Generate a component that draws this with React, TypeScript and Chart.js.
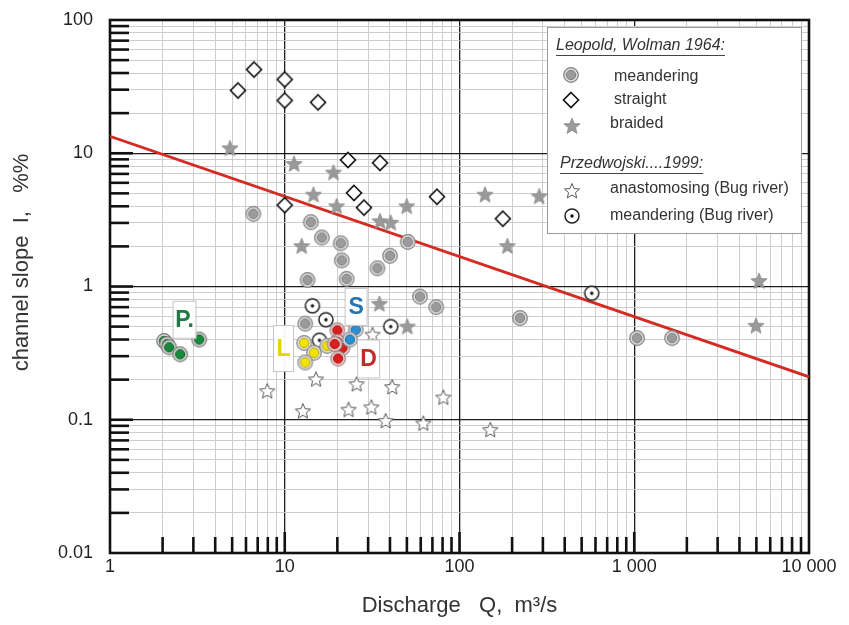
import React, { useEffect, useRef } from 'react';
import { Chart, registerables } from 'chart.js';

Chart.register(...registerables);

const W = 849;
const H = 625;
const FONT = '"Liberation Sans", Arial, Helvetica, sans-serif';

// ---- Data (Q in m3/s, I in %%) ----
// Leopold, Wolman 1964 – meandering
const meanderQ = [6.61, 14.1, 16.3, 20.9, 21.2, 13.5, 22.6, 33.9, 40.0, 50.6, 59.4, 73.6, 222, 1037, 1645, 13.1];
const meanderI = [3.51, 3.04, 2.33, 2.11, 1.57, 1.12, 1.14, 1.37, 1.70, 2.16, 0.84, 0.70, 0.58, 0.41, 0.41, 0.526];
// straight
const straightQ = [5.4, 6.67, 10.0, 10.0, 15.5, 23.0, 35.1, 24.9, 28.4, 10.0, 74.3, 177];
const straightI = [29.6, 42.5, 35.8, 24.9, 24.1, 8.9, 8.47, 5.04, 3.91, 4.08, 4.72, 3.23];
// braided
const braidedQ = [4.86, 11.3, 19.0, 14.6, 19.8, 35.1, 40.4, 12.5, 49.9, 140, 286, 188, 5176, 4970, 34.8, 50.3];
const braidedI = [10.9, 8.32, 7.17, 4.89, 4.0, 3.09, 3.01, 2.01, 4.0, 4.89, 4.75, 2.01, 1.10, 0.508, 0.741, 0.50];
// Przedwojski 1999 – anastomosing (Bug river)
const anastQ = [7.94, 15.1, 25.8, 41.2, 80.8, 12.7, 23.2, 31.3, 37.8, 62.1, 31.8, 150];
const anastI = [0.164, 0.201, 0.185, 0.176, 0.147, 0.116, 0.119, 0.124, 0.098, 0.094, 0.435, 0.084];
// meandering (Bug river)
const bugQ = [14.4, 17.2, 15.8, 40.4, 571];
const bugI = [0.716, 0.563, 0.395, 0.50, 0.89];
// coloured groups
const greenQ = [2.04, 2.12, 2.18, 2.52, 3.24];
const greenI = [0.39, 0.37, 0.35, 0.31, 0.40];
const yellowQ = [12.9, 14.7, 13.1, 17.5];
const yellowI = [0.377, 0.318, 0.269, 0.358];
const blueQ = [25.5, 23.6];
const blueI = [0.474, 0.40];
const redQ = [20.0, 20.0, 21.4, 20.2, 19.3];
const redI = [0.469, 0.384, 0.346, 0.288, 0.37];
// trend line
const trendQ = [1, 10000];
const trendI = [13.4, 0.21];

// group letters
const letterTexts = ['P.', 'L', 'S', 'D'];
const letterQ = [2.67, 9.84, 25.6, 30.2];
const letterI = [0.563, 0.342, 0.703, 0.286];
const letterColors = ['#1f7a43', '#e3d400', '#2673b0', '#c42a2a'];

// axes
const xTickLabels = ['1', '10', '100', '1 000', '10 000'];
const yTickLabels = ['0.01', '0.1', '1', '10', '100'];
const xTitle = 'Discharge   Q,  m\u00B3/s';
const yTitle = 'channel slope  I,   %%';

// legend
const legendHeader1 = 'Leopold, Wolman 1964:';
const legendHeader2 = 'Przedwojski....1999:';
const legendNames = ['meandering', 'straight', 'braided', 'anastomosing (Bug river)', 'meandering (Bug river)'];

const pts = (q: number[], i: number[]) => q.map((x, k) => ({ x, y: i[k] }));
const isDecade = (v: number) => Math.abs(Math.log10(v) - Math.round(Math.log10(v))) < 1e-9;
const logTicks = (min: number, max: number) => {
  const out: number[] = [];
  const e0 = Math.round(Math.log10(min));
  const e1 = Math.round(Math.log10(max));
  for (let e = e0; e < e1; e++) for (let m = 1; m < 10; m++) out.push(m * Math.pow(10, e));
  out.push(max);
  return out;
};

function makeMarker(size: number, draw: (ctx: CanvasRenderingContext2D, c: number) => void) {
  const cv = document.createElement('canvas');
  cv.width = size;
  cv.height = size;
  const ctx = cv.getContext('2d')!;
  draw(ctx, size / 2);
  return cv;
}
function starPath(ctx: CanvasRenderingContext2D, cx: number, cy: number, ro: number, ri: number) {
  ctx.beginPath();
  for (let i = 0; i < 10; i++) {
    const r = i % 2 === 0 ? ro : ri;
    const a = -Math.PI / 2 + (i * Math.PI) / 5;
    const px = cx + r * Math.cos(a);
    const py = cy + r * Math.sin(a);
    if (i === 0) ctx.moveTo(px, py);
    else ctx.lineTo(px, py);
  }
  ctx.closePath();
}
const ringed = (inner: string, innerStroke: string, ringFill: string, ringStroke: string) =>
  makeMarker(18, (ctx, c) => {
    ctx.beginPath();
    ctx.arc(c, c, 7.3, 0, Math.PI * 2);
    ctx.fillStyle = ringFill;
    ctx.fill();
    ctx.lineWidth = 1.2;
    ctx.strokeStyle = ringStroke;
    ctx.stroke();
    ctx.beginPath();
    ctx.arc(c, c, 4.7, 0, Math.PI * 2);
    ctx.fillStyle = inner;
    ctx.fill();
    ctx.lineWidth = 0.9;
    ctx.strokeStyle = innerStroke;
    ctx.stroke();
  });

export default function App() {
  const ref = useRef<HTMLCanvasElement | null>(null);

  useEffect(() => {
    if (!ref.current) return;

    const mGray = ringed('#9b9b9b', '#7a7a7a', '#dcdcdc', '#808080');
    const mGreen = ringed('#178a3c', '#0d5a25', '#d8d8d8', '#7a7a7a');
    const mYellow = ringed('#f4e300', '#b8a800', '#dedede', '#8a8a8a');
    const mBlue = ringed('#2a8fd8', '#1a5f95', '#dcdcdc', '#8a8a8a');
    const mRed = ringed('#d8201e', '#9a1414', '#f0d4d2', '#a08080');
    const mDiamond = makeMarker(20, (ctx, c) => {
      ctx.beginPath();
      ctx.moveTo(c, c - 7.5);
      ctx.lineTo(c + 7.5, c);
      ctx.lineTo(c, c + 7.5);
      ctx.lineTo(c - 7.5, c);
      ctx.closePath();
      ctx.fillStyle = '#ffffff';
      ctx.fill();
      ctx.lineWidth = 1.6;
      ctx.strokeStyle = '#111';
      ctx.stroke();
    });
    const mStarFilled = makeMarker(20, (ctx, c) => {
      starPath(ctx, c, c + 0.5, 8.5, 3.7);
      ctx.fillStyle = '#9a9a9a';
      ctx.fill();
      ctx.lineWidth = 0.8;
      ctx.strokeStyle = '#8a8a8a';
      ctx.stroke();
    });
    const mStarOpen = makeMarker(20, (ctx, c) => {
      starPath(ctx, c, c + 0.5, 8, 3.6);
      ctx.fillStyle = '#ffffff';
      ctx.fill();
      ctx.lineWidth = 1;
      ctx.strokeStyle = '#555';
      ctx.stroke();
    });
    const mDot = makeMarker(18, (ctx, c) => {
      ctx.beginPath();
      ctx.arc(c, c, 7, 0, Math.PI * 2);
      ctx.fillStyle = '#fff';
      ctx.fill();
      ctx.lineWidth = 1.5;
      ctx.strokeStyle = '#222';
      ctx.stroke();
      ctx.beginPath();
      ctx.arc(c, c, 1.7, 0, Math.PI * 2);
      ctx.fillStyle = '#111';
      ctx.fill();
    });

    const gridColor = (c: any) => (c.tick && isDecade(c.tick.value) ? '#1e1e1e' : '#cdcdcd');
    const gridWidth = (c: any) => (c.tick && isDecade(c.tick.value) ? 1.3 : 1);

    const frameTicksPlugin = {
      id: 'frameTicks',
      beforeDatasetsDraw(chart: any) {
        const { ctx, chartArea: a, scales } = chart;
        const xs = scales.x;
        const ys = scales.y;
        ctx.save();
        ctx.strokeStyle = '#111';
        ctx.lineWidth = 2.6;
        ys.ticks.forEach((t: any) => {
          const v = t.value;
          if (v <= ys.min * 1.0001 || v >= ys.max * 0.9999) return;
          const y = ys.getPixelForValue(v);
          const len = isDecade(v) ? 23 : 19;
          ctx.beginPath();
          ctx.moveTo(a.left, y);
          ctx.lineTo(a.left + len, y);
          ctx.stroke();
        });
        xs.ticks.forEach((t: any) => {
          const v = t.value;
          if (v <= xs.min * 1.0001 || v >= xs.max * 0.9999) return;
          const x = xs.getPixelForValue(v);
          const len = isDecade(v) ? 21 : 16;
          ctx.beginPath();
          ctx.moveTo(x, a.bottom);
          ctx.lineTo(x, a.bottom - len);
          ctx.stroke();
        });
        ctx.lineWidth = 2.6;
        ctx.strokeRect(a.left, a.top, a.right - a.left, a.bottom - a.top);
        ctx.restore();
      },
    };

    const annotationsPlugin = {
      id: 'annots',
      afterDatasetsDraw(chart: any) {
        const { ctx, scales, chartArea: a } = chart;
        const sizes = [
          [23, 37],
          [20, 46],
          [22, 37],
          [22, 38],
        ];
        ctx.save();
        letterTexts.forEach((t, k) => {
          const cx = scales.x.getPixelForValue(letterQ[k]);
          const cy = scales.y.getPixelForValue(letterI[k]);
          const [w, h] = sizes[k];
          ctx.fillStyle = 'rgba(255,255,255,0.95)';
          ctx.fillRect(cx - w / 2, cy - h / 2, w, h);
          ctx.strokeStyle = '#c4c4c4';
          ctx.lineWidth = 1;
          ctx.strokeRect(cx - w / 2, cy - h / 2, w, h);
          ctx.fillStyle = letterColors[k];
          ctx.font = `bold 23px ${FONT}`;
          ctx.textAlign = 'center';
          ctx.textBaseline = 'middle';
          ctx.fillText(t, cx, cy + 1);
        });

        // y axis title
        ctx.save();
        ctx.translate(22, a.top + (a.bottom - a.top) * 0.455);
        ctx.rotate(-Math.PI / 2);
        ctx.fillStyle = '#333';
        ctx.font = `22px ${FONT}`;
        ctx.textAlign = 'center';
        ctx.textBaseline = 'middle';
        ctx.fillText(yTitle, 0, 0);
        ctx.restore();

        // legend
        const bx = a.right - 262;
        const by = a.top + 7;
        const bw = 254;
        const bh = 206;
        ctx.fillStyle = '#fff';
        ctx.fillRect(bx, by, bw, bh);
        ctx.strokeStyle = '#9a9a9a';
        ctx.lineWidth = 1;
        ctx.strokeRect(bx + 0.5, by + 0.5, bw, bh);

        ctx.fillStyle = '#333';
        ctx.textAlign = 'left';
        ctx.textBaseline = 'middle';
        const header = (txt: string, x: number, y: number) => {
          ctx.font = `italic 16px ${FONT}`;
          ctx.fillText(txt, x, y);
          const w = ctx.measureText(txt).width;
          ctx.beginPath();
          ctx.strokeStyle = '#444';
          ctx.lineWidth = 1;
          ctx.moveTo(x, y + 9.5);
          ctx.lineTo(x + w, y + 9.5);
          ctx.stroke();
        };
        header(legendHeader1, bx + 9, by + 19);
        header(legendHeader2, bx + 13, by + 137);

        const rows: [HTMLCanvasElement, number, number, number, number][] = [
          [mGray, bx + 24, by + 48, bx + 67, by + 50],
          [mDiamond, bx + 24, by + 73, bx + 67, by + 73],
          [mStarFilled, bx + 25, by + 99, bx + 63, by + 97],
          [mStarOpen, bx + 25, by + 164, bx + 63, by + 162],
          [mDot, bx + 25, by + 189, bx + 63, by + 189],
        ];
        ctx.font = `16px ${FONT}`;
        ctx.fillStyle = '#333';
        rows.forEach(([img, mx, my, tx, ty], k) => {
          ctx.drawImage(img, mx - img.width / 2, my - img.height / 2);
          ctx.fillText(legendNames[k], tx, ty);
        });
        ctx.restore();
      },
    };

    const chart = new Chart(ref.current, {
      type: 'scatter',
      data: {
        datasets: [
          {
            label: 'trend',
            data: pts(trendQ, trendI),
            showLine: true,
            borderColor: '#d42b23',
            borderWidth: 2.8,
            pointRadius: 0,
            order: 20,
          } as any,
          { label: 'straight', data: pts(straightQ, straightI), pointStyle: mDiamond, order: 9 },
          { label: 'braided', data: pts(braidedQ, braidedI), pointStyle: mStarFilled, order: 8 },
          { label: 'meandering', data: pts(meanderQ, meanderI), pointStyle: mGray, order: 7 },
          { label: 'anastomosing (Bug river)', data: pts(anastQ, anastI), pointStyle: mStarOpen, order: 6 },
          { label: 'meandering (Bug river)', data: pts(bugQ, bugI), pointStyle: mDot, order: 5 },
          { label: 'P', data: pts(greenQ, greenI), pointStyle: mGreen, order: 4 },
          { label: 'L', data: pts(yellowQ, yellowI), pointStyle: mYellow, order: 3 },
          { label: 'D', data: pts(redQ, redI), pointStyle: mRed, order: 2 },
          { label: 'S', data: pts(blueQ, blueI), pointStyle: mBlue, order: 1 },
        ],
      },
      options: {
        responsive: false,
        animation: false,
        devicePixelRatio: 1,
        events: [],
        layout: { padding: { top: 20, right: 40, left: 0, bottom: 0 } },
        plugins: { legend: { display: false }, tooltip: { enabled: false } },
        scales: {
          x: {
            type: 'logarithmic',
            position: 'bottom',
            min: 1,
            max: 10000,
            afterBuildTicks: (s: any) => {
              s.ticks = logTicks(1, 10000).map((v) => ({ value: v }));
            },
            afterFit: (s: any) => {
              s.height = H - 553;
              s.paddingLeft = 0;
              s.paddingRight = 0;
            },
            grid: { color: gridColor, lineWidth: gridWidth, drawTicks: false },
            border: { display: false },
            ticks: {
              autoSkip: false,
              maxRotation: 0,
              minRotation: 0,
              padding: 3,
              color: '#222',
              font: { family: FONT, size: 18 },
              callback: (v: any) => (isDecade(v) ? xTickLabels[Math.round(Math.log10(v))] : ''),
            },
            title: {
              display: true,
              text: xTitle,
              color: '#333',
              font: { family: FONT, size: 22 },
              padding: { top: 0, bottom: 6 },
            },
          },
          y: {
            type: 'logarithmic',
            position: 'left',
            min: 0.01,
            max: 100,
            afterBuildTicks: (s: any) => {
              s.ticks = logTicks(0.01, 100).map((v) => ({ value: v }));
            },
            afterFit: (s: any) => {
              s.width = 110;
              s.paddingTop = 0;
              s.paddingBottom = 0;
            },
            grid: { color: gridColor, lineWidth: gridWidth, drawTicks: false },
            border: { display: false },
            ticks: {
              autoSkip: false,
              padding: 17,
              color: '#222',
              font: { family: FONT, size: 18 },
              callback: (v: any) => (isDecade(v) ? yTickLabels[Math.round(Math.log10(v)) + 2] : ''),
            },
          },
        },
      },
      plugins: [frameTicksPlugin, annotationsPlugin],
    } as any);

    return () => chart.destroy();
  }, []);

  return (
    <div style={{ position: 'fixed', left: 0, top: 0, width: W, height: H, background: '#fff' }}>
      <canvas ref={ref} width={W} height={H} style={{ width: W, height: H, display: 'block' }} />
    </div>
  );
}
